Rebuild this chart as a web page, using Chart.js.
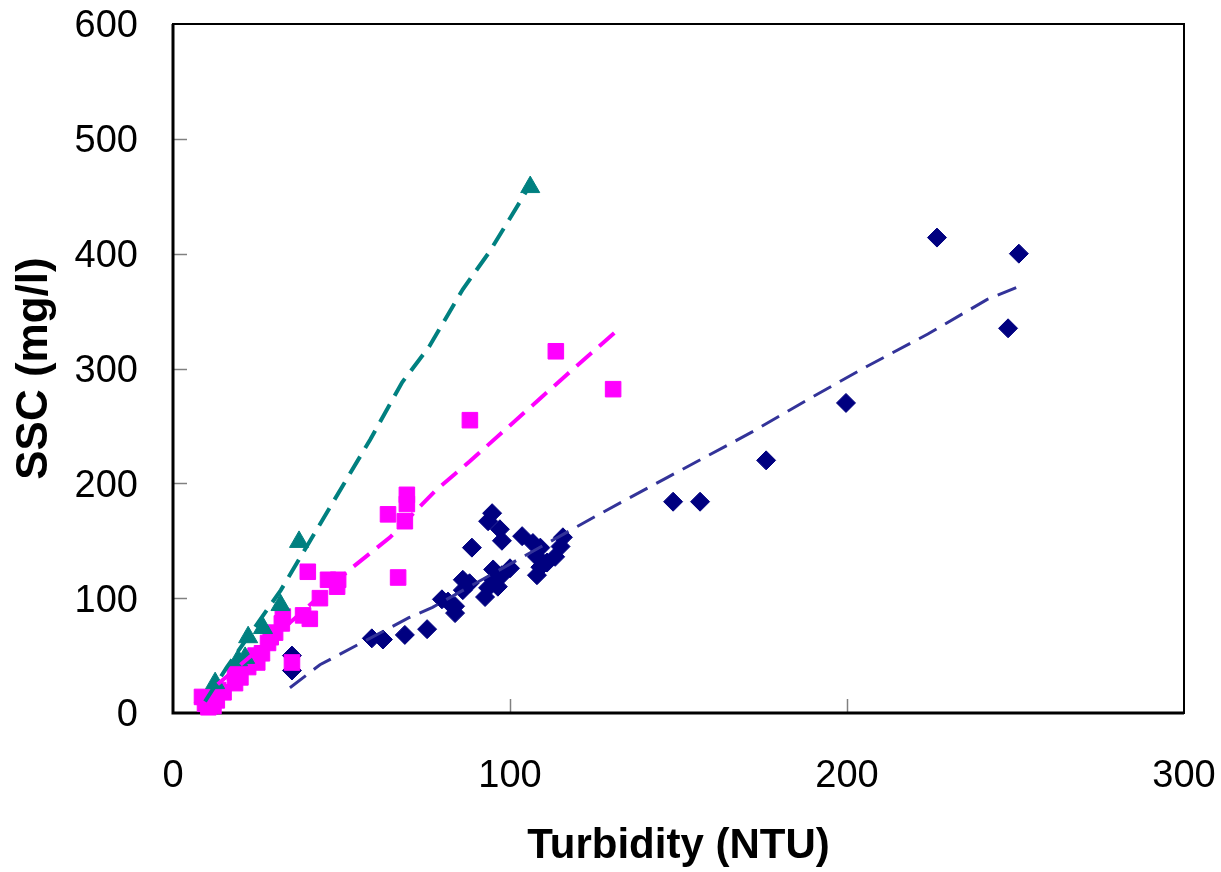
<!DOCTYPE html>
<html><head><meta charset="utf-8">
<script src="https://cdn.jsdelivr.net/npm/chart.js@4"></script>
<style>html,body{margin:0;padding:0;background:#fff;}</style>
</head><body>
<canvas id="c" width="1221" height="872" style="display:block;width:1221px;height:872px"></canvas>
<script>
// ---- data ----
const navyX = [35.3,35.3,59,62.3,68.8,75.4,79.8,81.6,83.7,83.7,86,86,88,88.7,92.6,93.5,95,95,96.4,97.6,100,93.5,94.7,97,97.6,103.6,106.8,109,108,108,109,111,113.4,115,115.7,148.4,156.4,176,199.7,226.7,247.8,251];
const navyY = [50,37,65,64,68,73,99,97,93,87,116,107,113,144,101,109,116,125,110,120,126,167,174,160,150,154,148,144,136,120,127,131,136,145,153,184,184,220,270,414,335,400];
const magX = [8.6,9.5,10.5,12,13,13.4,15,18.4,18.4,20,22.3,25,24.5,26.4,28.2,29,30.3,32.3,32.6,35.3,38.6,40.6,40,43.6,46,48.7,49,63.8,66.8,68.8,69.4,69.4,88.1,113.6,130.6];
const magY = [14,8,5,6,11,20,18,26,35,31,40,44,50,52,61,66,70,78,84,44,85,82,123,100,116,110,116,173,118,167,182,190,255,315,282];
const tealX = [12.5,19.3,21.4,22.3,26.7,31.9,37.4,106];
const tealY = [26,46,48,66,74,94,149,458];
// fitted (dashed) lines
const tealFitX = [9.5,16,32,51,58.5,68,76,86,94,105];
const tealFitY = [10,40,107,201,238,288,319,369,402,455];
const magFitX = [6.5,35.6,52.5,64.4,78,88,117,131];
const magFitY = [8,81,125,153,194,219,295,331];
const navyFitX = [34.7,43.6,70,77,102,125.8,146.6,155.5,172,189,206,224,241.5,250.7];
const navyFitY = [22,42,83,92,133,172,205,219,245,274,302,330,360,371];
const xTicks = [0,100,200,300];
const yTicks = [0,100,200,300,400,500,600];

const pts = (xs, ys) => xs.map((x,i)=>({x, y: ys[i]}));
const FONT = "'Liberation Sans', Arial, sans-serif";

const boxPlugin = {
  id: 'box',
  beforeDatasetsDraw(chart) {
    const {ctx, chartArea: a, scales} = chart;
    ctx.save();
    ctx.strokeStyle = '#808080';
    ctx.lineWidth = 1.5;
    yTicks.forEach(v => {
      if (v === 0 || v === 600) return;
      const y = Math.round(scales.y.getPixelForValue(v)) + 0.5;
      ctx.beginPath(); ctx.moveTo(a.left, y); ctx.lineTo(a.left + 14, y); ctx.stroke();
    });
    xTicks.forEach(v => {
      if (v === 0 || v === 300) return;
      const x = Math.round(scales.x.getPixelForValue(v)) + 0.5;
      ctx.beginPath(); ctx.moveTo(x, a.bottom); ctx.lineTo(x, a.bottom - 14); ctx.stroke();
    });
    ctx.strokeStyle = '#000';
    ctx.lineWidth = 2;
    ctx.strokeRect(a.left, a.top, a.right - a.left, a.bottom - a.top);
    ctx.lineWidth = 3;
    ctx.beginPath();
    ctx.moveTo(a.left, a.top); ctx.lineTo(a.left, a.bottom); ctx.lineTo(a.right, a.bottom);
    ctx.stroke();
    ctx.restore();
  }
};

const lineDs = (data, color, w) => ({
  type: 'scatter', data, showLine: true, borderColor: color, borderWidth: w,
  borderDash: [20, 10], pointRadius: 0, fill: false, tension: 0
});
const ptDs = (data, color, style, r) => ({
  type: 'scatter', data, pointStyle: style, pointRadius: r, pointHoverRadius: r,
  backgroundColor: color, borderColor: color, borderWidth: 1, showLine: false, clip: false
});
const zeroPad = s => { s.paddingTop = 0; s.paddingBottom = 0; s.paddingLeft = 0; s.paddingRight = 0; };

new Chart(document.getElementById('c'), {
  type: 'scatter',
  data: {
    datasets: [
      lineDs(pts(tealFitX, tealFitY), '#008080', 4),
      lineDs(pts(magFitX, magFitY), '#FF00FF', 4),
      lineDs(pts(navyFitX, navyFitY), '#333399', 3),
      ptDs(pts(tealX, tealY), '#008080', 'triangle', 11),
      ptDs(pts(magX, magY), '#FF00FF', 'rect', 11),
      ptDs(pts(navyX, navyY), '#000080', 'rectRot', 9.5)
    ]
  },
  options: {
    responsive: false,
    animation: false,
    devicePixelRatio: 1,
    layout: { padding: { top: 24, right: 37, left: 0, bottom: 0 } },
    plugins: { legend: { display: false }, tooltip: { enabled: false } },
    scales: {
      x: {
        type: 'linear', min: 0, max: 300,
        afterBuildTicks: s => { s.ticks = xTicks.map(v => ({value: v})); },
        afterFit: s => { s.height = 159; zeroPad(s); },
        grid: { display: false, drawTicks: false },
        border: { display: false },
        ticks: { color: '#000', font: { family: FONT, size: 38 }, padding: 41, maxRotation: 0 },
        title: { display: true, text: 'Turbidity (NTU)', color: '#000',
                 font: { family: FONT, size: 42, weight: 'bold' }, padding: { top: 0, bottom: 0 } }
      },
      y: {
        type: 'linear', min: 0, max: 600,
        afterBuildTicks: s => { s.ticks = yTicks.map(v => ({value: v})); },
        afterFit: s => { s.width = 173; zeroPad(s); },
        grid: { display: false, drawTicks: false },
        border: { display: false },
        ticks: { color: '#000', font: { family: FONT, size: 38 }, padding: 35, labelOffset: 3 },
        title: { display: true, text: 'SSC (mg/l)', color: '#000',
                 font: { family: FONT, size: 44, weight: 'bold' }, padding: { top: 8, bottom: 0 } }
      }
    }
  },
  plugins: [boxPlugin]
});
</script>
</body></html>
